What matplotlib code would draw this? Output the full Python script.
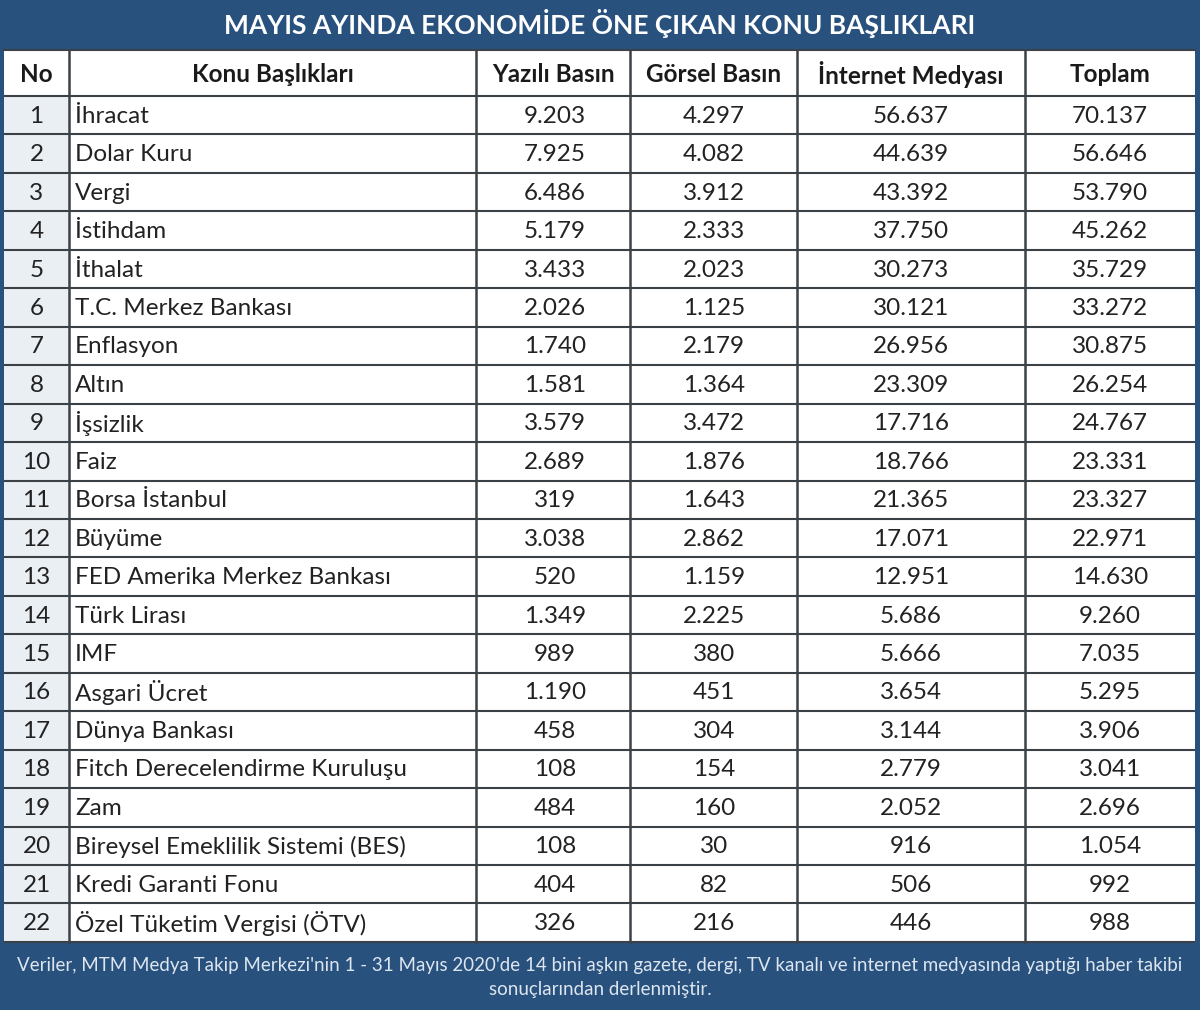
import matplotlib
matplotlib.use("Agg")
import matplotlib.pyplot as plt
from matplotlib.patches import Rectangle

plt.rcParams['font.family'] = ['Lato', 'DejaVu Sans']

title = "MAYIS AYINDA EKONOMİDE ÖNE ÇIKAN KONU BAŞLIKLARI"
headers = ["No", "Konu Başlıkları", "Yazılı Basın", "Görsel Basın", "İnternet Medyası", "Toplam"]
topics = ["İhracat", "Dolar Kuru", "Vergi", "İstihdam", "İthalat", "T.C. Merkez Bankası",
          "Enflasyon", "Altın", "İşsizlik", "Faiz", "Borsa İstanbul", "Büyüme",
          "FED Amerika Merkez Bankası", "Türk Lirası", "IMF", "Asgari Ücret",
          "Dünya Bankası", "Fitch Derecelendirme Kuruluşu", "Zam",
          "Bireysel Emeklilik Sistemi (BES)", "Kredi Garanti Fonu",
          "Özel Tüketim Vergisi (ÖTV)"]
yazili = [9203, 7925, 6486, 5179, 3433, 2026, 1740, 1581, 3579, 2689, 319, 3038,
          520, 1349, 989, 1190, 458, 108, 484, 108, 404, 326]
gorsel = [4297, 4082, 3912, 2333, 2023, 1125, 2179, 1364, 3472, 1876, 1643, 2862,
          1159, 2225, 380, 451, 304, 154, 160, 30, 82, 216]
internet = [56637, 44639, 43392, 37750, 30273, 30121, 26956, 23309, 17716, 18766,
            21365, 17071, 12951, 5686, 5666, 3654, 3144, 2779, 2052, 916, 506, 446]
toplam = [70137, 56646, 53790, 45262, 35729, 33272, 30875, 26254, 24767, 23331,
          23327, 22971, 14630, 9260, 7035, 5295, 3906, 3041, 2696, 1054, 992, 988]
footer = ("Veriler, MTM Medya Takip Merkezi'nin 1 - 31 Mayıs 2020'de 14 bini aşkın gazete, dergi, "
          "TV kanalı ve internet medyasında yaptığı haber takibi\nsonuçlarından derlenmiştir.")


def fmt(v):
    return f"{v:,}".replace(",", ".")


W, H = 1200, 1010
fig = plt.figure(figsize=(12, 10.1), dpi=100)
ax = fig.add_axes([0, 0, 1, 1])
ax.set_xlim(0, W)
ax.set_ylim(H, 0)
ax.axis('off')

BLUE = "#28517e"
LINE = "#3a4147"
fig.patch.set_facecolor(BLUE)

# layout
col_x = [4, 69, 476, 630, 797, 1025, 1195]
head_top, head_bot = 50, 96
row_h = 38.45
n = len(topics)
table_bot = head_bot + n * row_h

# white table area
ax.add_patch(Rectangle((col_x[0], head_top), col_x[-1] - col_x[0], table_bot - head_top,
                       facecolor="white", edgecolor="none", zorder=1))
# No column shading
ax.add_patch(Rectangle((col_x[0], head_bot), col_x[1] - col_x[0], table_bot - head_bot,
                       facecolor="#eaeff4", edgecolor="none", zorder=1))

# title
ax.text(W / 2, 23, title, color="white", fontsize=19, fontweight="bold",
        ha="center", va="center", zorder=3)

# header
centers = [(col_x[i] + col_x[i + 1]) / 2 for i in range(len(col_x) - 1)]
hy = (head_top + head_bot) / 2
for i, h in enumerate(headers):
    ax.text(centers[i], hy + 1, h, fontsize=17.5, fontweight="bold", color="#1a1a1a",
            ha="center", va="center", zorder=3)

# rows
value_cols = [yazili, gorsel, internet, toplam]
value_x = [555, 714, 911, 1110]
FS = 17.5
for r in range(n):
    cy = head_bot + (r + 0.5) * row_h + 1
    ax.text(centers[0], cy, str(r + 1), fontsize=FS, color="#222222",
            ha="center", va="center", zorder=3)
    ax.text(col_x[1] + 6, cy, topics[r], fontsize=FS, color="#222222",
            ha="left", va="center", zorder=3)
    for vals, vx in zip(value_cols, value_x):
        ax.text(vx, cy, fmt(vals[r]), fontsize=FS, color="#222222",
                ha="center", va="center", zorder=3)

# grid lines
for r in range(n + 1):
    y = head_bot + r * row_h
    ax.plot([col_x[0], col_x[-1]], [y, y], color=LINE, lw=1.5, zorder=2,
            solid_capstyle="butt")
ax.plot([col_x[0], col_x[-1]], [head_top, head_top], color=LINE, lw=1.5, zorder=2)
for x in col_x[1:-1]:
    ax.plot([x, x], [head_top, table_bot], color=LINE, lw=1.8, zorder=2)

# footer
ax.text(W / 2, (table_bot + H) / 2 + 2, footer, color="#dde6f0", fontsize=13.5,
        ha="center", va="center", linespacing=1.5, zorder=3)

fig.savefig("out.png", dpi=100, facecolor=BLUE)
